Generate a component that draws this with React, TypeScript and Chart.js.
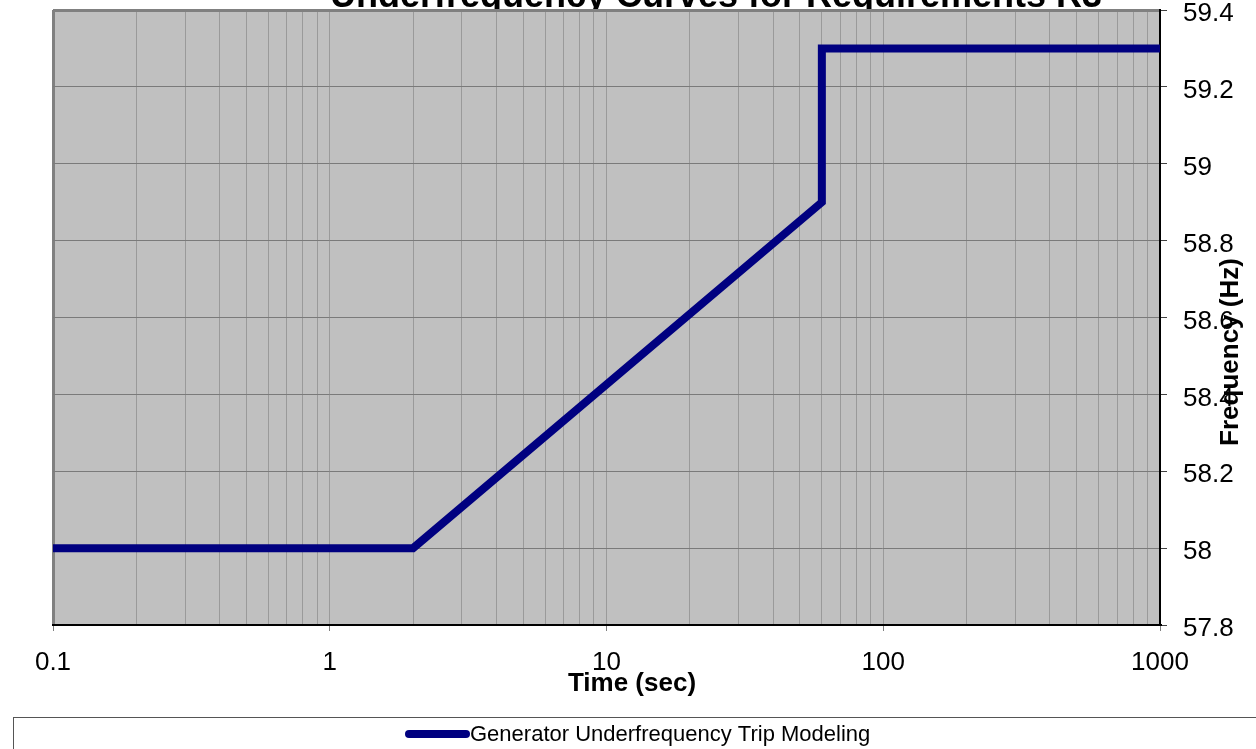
import React, { useEffect, useRef } from "react";
import { Chart, registerables } from "chart.js";

Chart.register(...registerables);

const chartTitle = "Underfrequency Curves for Requirements R3";
const xAxisTitle = "Time (sec)";
const yAxisTitle = "Frequency (Hz)";
const seriesLabel = "Generator Underfrequency Trip Modeling";

const timeValues = [0.1, 2, 60, 60, 1000];
const freqValues = [58, 58, 58.9, 59.3, 59.3];

const xMin = 0.1;
const xMax = 1000;
const yMin = 57.8;
const yMax = 59.4;
const yStep = 0.2;
const xGridValues = [
  0.1, 0.2, 0.3, 0.4, 0.5, 0.6, 0.7, 0.8, 0.9,
  1, 2, 3, 4, 5, 6, 7, 8, 9,
  10, 20, 30, 40, 50, 60, 70, 80, 90,
  100, 200, 300, 400, 500, 600, 700, 800, 900,
  1000,
];

const FONT = "'Liberation Sans', Arial, Helvetica, sans-serif";
const W = 1256;
const H = 749;

const isDecade = (v: number) => {
  const l = Math.log10(v);
  return Math.abs(l - Math.round(l)) < 1e-9;
};

const decorPlugin = {
  id: "decor",
  beforeDraw(chart: any) {
    const { ctx, chartArea } = chart;
    ctx.save();
    ctx.fillStyle = "#ffffff";
    ctx.fillRect(0, 0, W, H);
    // main title (clipped at top)
    ctx.fillStyle = "#000";
    ctx.font = `bold 36px ${FONT}`;
    ctx.textAlign = "center";
    ctx.textBaseline = "alphabetic";
    ctx.fillText(chartTitle, 716, 7);
    // plot background
    ctx.fillStyle = "#c0c0c0";
    ctx.fillRect(chartArea.left, chartArea.top, chartArea.right - chartArea.left, chartArea.bottom - chartArea.top);
    ctx.restore();
  },
  afterDraw(chart: any) {
    const { ctx } = chart;
    ctx.save();
    // axis titles
    ctx.fillStyle = "#000";
    ctx.font = `bold 26px ${FONT}`;
    ctx.textAlign = "center";
    ctx.textBaseline = "alphabetic";
    ctx.fillText(xAxisTitle, 632, 691);
    ctx.translate(1238, 352);
    ctx.rotate(-Math.PI / 2);
    ctx.fillText(yAxisTitle, 0, 0);
    ctx.restore();

    // legend box
    ctx.save();
    ctx.strokeStyle = "#555555";
    ctx.lineWidth = 1;
    ctx.strokeRect(13.5, 717.5, 1300, 100);
    const ds = chart.data.datasets[0];
    ctx.strokeStyle = ds.borderColor;
    ctx.lineWidth = 8;
    ctx.lineCap = "round";
    ctx.beginPath();
    ctx.moveTo(409, 734);
    ctx.lineTo(466, 734);
    ctx.stroke();
    ctx.fillStyle = "#000";
    ctx.font = `22px ${FONT}`;
    ctx.textAlign = "left";
    ctx.textBaseline = "middle";
    ctx.fillText(ds.label, 470, 735);
    ctx.restore();
  },
};

export default function App() {
  const canvasRef = useRef<HTMLCanvasElement | null>(null);

  useEffect(() => {
    const canvas = canvasRef.current;
    if (!canvas) return;
    const chart = new Chart(canvas, {
      type: "line",
      data: {
        datasets: [
          {
            label: seriesLabel,
            data: timeValues.map((t, i) => ({ x: t, y: freqValues[i] })),
            borderColor: "#000080",
            backgroundColor: "#000080",
            borderWidth: 8,
            pointRadius: 0,
            tension: 0,
            borderJoinStyle: "miter",
            fill: false,
          },
        ],
      },
      options: {
        animation: false,
        responsive: false,
        devicePixelRatio: 1,
        layout: { padding: { left: 53, top: 10, right: 0, bottom: 0 } },
        plugins: {
          legend: { display: false },
          title: { display: false },
          tooltip: { enabled: false },
        },
        scales: {
          x: {
            type: "logarithmic",
            min: xMin,
            max: xMax,
            afterBuildTicks: (scale: any) => {
              scale.ticks = xGridValues.map((v) => ({ value: v, major: isDecade(v) }));
            },
            afterFit: (scale: any) => {
              scale.height = 124;
              scale.paddingLeft = 0;
              scale.paddingRight = 0;
            },
            ticks: {
              autoSkip: false,
              maxRotation: 0,
              minRotation: 0,
              padding: 16,
              color: "#000",
              font: { family: FONT, size: 26 },
              callback: (value: any) => {
                const v = Number(value);
                return isDecade(v) ? String(Number(v.toPrecision(6))) : "";
              },
            },
            grid: {
              drawOnChartArea: true,
              color: (ctx: any) => {
                const v = ctx.tick ? ctx.tick.value : 0;
                if (Math.abs(v - xMin) < 1e-9) return "#808080";
                if (Math.abs(v - xMax) < 1e-9) return "rgba(0,0,0,0)";
                return "#9a9a9a";
              },
              lineWidth: (ctx: any) => {
                const v = ctx.tick ? ctx.tick.value : 0;
                return Math.abs(v - xMin) < 1e-9 ? 3 : 1;
              },
              tickLength: 6,
              tickColor: (ctx: any) => {
                const v = ctx.tick ? ctx.tick.value : 0;
                return isDecade(v) ? "#808080" : "rgba(0,0,0,0)";
              },
              tickWidth: 1,
            },
            border: { display: true, color: "#000", width: 2 },
          },
          y: {
            type: "linear",
            position: "right",
            min: yMin,
            max: yMax,
            afterFit: (scale: any) => {
              scale.width = 96;
              scale.paddingTop = 0;
              scale.paddingBottom = 0;
              if (!scale.__labelShift) {
                const orig = scale._computeLabelItems;
                scale._computeLabelItems = function (area: any) {
                  const items = orig.call(this, area);
                  for (const it of items) {
                    if (it && it.options && it.options.translation) it.options.translation[1] += 4;
                  }
                  return items;
                };
                scale.__labelShift = true;
              }
            },
            ticks: {
              stepSize: yStep,
              padding: 16,
              color: "#000",
              font: { family: FONT, size: 26 },
              callback: (value: any) => String(Number(Number(value).toFixed(1))),
            },
            grid: {
              color: (ctx: any) => {
                const v = ctx.tick ? ctx.tick.value : 0;
                if (Math.abs(v - yMax) < 1e-9) return "#808080";
                return "#7a7a7a";
              },
              lineWidth: (ctx: any) => {
                const v = ctx.tick ? ctx.tick.value : 0;
                return Math.abs(v - yMax) < 1e-9 ? 3 : 1;
              },
              tickLength: 7,
              tickColor: "#404040",
              tickWidth: 1,
            },
            border: { display: true, color: "#000", width: 2 },
          },
        },
      },
      plugins: [decorPlugin],
    } as any);
    return () => chart.destroy();
  }, []);

  return (
    <div style={{ position: "fixed", left: 0, top: 0, width: W, height: H, background: "#fff" }}>
      <canvas ref={canvasRef} width={W} height={H} style={{ display: "block", width: W, height: H }} />
    </div>
  );
}
